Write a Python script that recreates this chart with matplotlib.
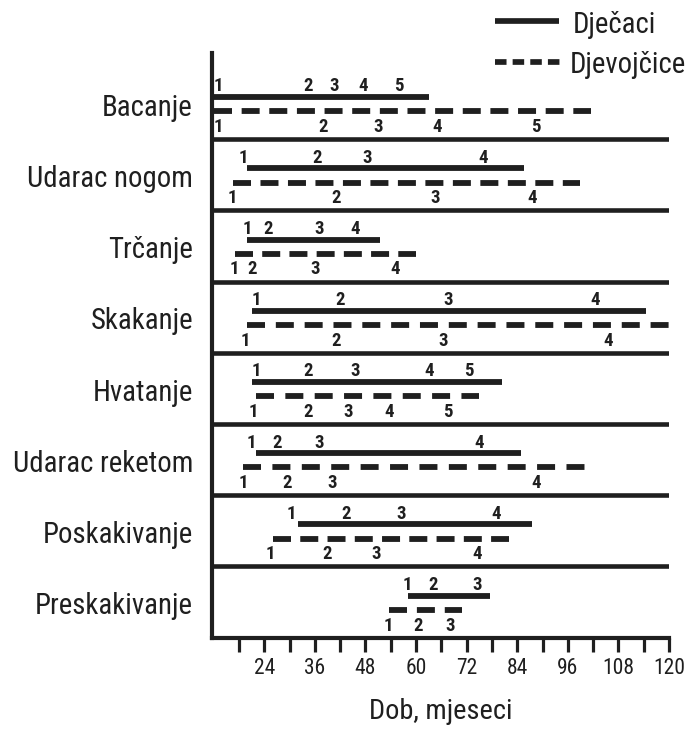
import matplotlib
matplotlib.use("Agg")
import matplotlib.pyplot as plt
from matplotlib import font_manager
from matplotlib.lines import Line2D
import matplotlib.transforms as mtransforms

# ---------------- data ----------------
categories = ["Bacanje", "Udarac nogom", "Trčanje", "Skakanje",
              "Hvatanje", "Udarac reketom", "Poskakivanje", "Preskakivanje"]

boys_start = [12, 20, 20, 21, 21, 22, 32, 58]
boys_end = [63, 85.5, 51.5, 114.5, 80.5, 85, 87.5, 77.5]
girls_start = [12, 16.5, 17, 20, 22, 19, 26, 53.5]
girls_end = [101.5, 99, 60, 120, 75, 100, 82, 71]

boys_stages = [
    [13, 34.5, 40.5, 47.5, 56],
    [19, 36.5, 48.5, 76],
    [20, 25, 37, 45.5],
    [22, 42, 67.5, 102.5],
    [22, 34.5, 45.5, 63, 72.5],
    [21, 27, 37, 75],
    [30.5, 43.5, 56.5, 79],
    [58, 64, 74.5],
]
girls_stages = [
    [13, 38, 51, 65, 88.5],
    [16.5, 41, 64.5, 87.5],
    [17, 21, 36, 55],
    [19.5, 41, 66.5, 105.5],
    [21.5, 34.5, 44, 53.5, 67.5],
    [19, 29.5, 40, 88.5],
    [25.5, 39, 50.5, 74.5],
    [53.5, 60.5, 68],
]

major_ticks = [24, 36, 48, 60, 72, 84, 96, 108, 120]
minor_ticks = [18, 30, 42, 54, 66, 78, 90, 102, 114]
xlabel = "Dob, mjeseci"
legend_boys = "Dječaci"
legend_girls = "Djevojčice"

# ---------------- fonts ----------------
names = {f.name for f in font_manager.fontManager.ttflist}
if "Roboto Condensed" in names:
    FAM = "Roboto Condensed"
    SZ = dict(label=20.7, legend=20.7, xlabel=20.4, tick=15.5, num=13.5)
elif "Liberation Sans Narrow" in names:
    FAM = "Liberation Sans Narrow"
    SZ = dict(label=22, legend=22, xlabel=22, tick=16, num=14)
else:
    FAM = "Liberation Sans"
    SZ = dict(label=18, legend=18, xlabel=18, tick=13, num=13)
plt.rcParams["font.family"] = [FAM, "DejaVu Sans"]
plt.rcParams["lines.scale_dashes"] = False

INK = "#1f1f1f"
W, H = 691, 729
X0, X1 = 11.6, 120
AX_L, AX_R, AX_T, AX_B = 212, 669, 53, 637.7
PPM = (AX_R - AX_L) / (X1 - X0)   # pixels per month


def fitted_dashes(a, b, dash_px=18.0, gap_px=10.5):
    L = (b - a) * PPM
    n = max(1, round((L + gap_px) / (dash_px + gap_px)))
    gap = (L - n * dash_px) / (n - 1) if n > 1 else gap_px
    return (dash_px * 0.72, max(gap, 1.0) * 0.72)


fig = plt.figure(figsize=(W / 100, H / 100), dpi=100)
ax = fig.add_axes([AX_L / W, 1 - AX_B / H, (AX_R - AX_L) / W, (AX_B - AX_T) / H])
ax.set_xlim(X0, X1)
ax.set_ylim(0, 8.21)

n = len(categories)
lab_tr = mtransforms.blended_transform_factory(fig.transFigure, ax.transData)
for i, cat in enumerate(categories):
    base = n - 1 - i
    ax.plot([boys_start[i], boys_end[i]], [base + 0.59] * 2, color=INK, lw=4.2,
            solid_capstyle="butt")
    ax.plot([girls_start[i], girls_end[i]], [base + 0.39] * 2, color=INK, lw=4.2,
            dashes=fitted_dashes(girls_start[i], girls_end[i]), dash_capstyle="butt")
    for k, v in enumerate(boys_stages[i]):
        ax.text(v, base + 0.67, str(k + 1), ha="center", va="baseline",
                fontsize=SZ["num"], fontweight="bold", color=INK)
    for k, v in enumerate(girls_stages[i]):
        ax.text(v, base + 0.10, str(k + 1), ha="center", va="baseline",
                fontsize=SZ["num"], fontweight="bold", color=INK)
    ax.text(193 / W, base + 0.33, cat, transform=lab_tr, ha="right",
            va="baseline", fontsize=SZ["label"], color=INK)
    if base > 0:
        ax.axhline(base, color=INK, lw=3.3)

for sp in ["top", "right"]:
    ax.spines[sp].set_visible(False)
for sp in ["left", "bottom"]:
    ax.spines[sp].set_linewidth(3.0)
    ax.spines[sp].set_color(INK)

ax.set_yticks([])
ax.set_xticks(major_ticks)
ax.set_xticks(minor_ticks, minor=True)
ax.set_xticklabels([str(t) for t in major_ticks])
ax.tick_params(axis="x", which="both", length=10, width=2.3, direction="out",
               color=INK, pad=4.5, labelsize=SZ["tick"], labelcolor=INK)

fig.text(440.5 / W, 1 - 719.3 / H, xlabel, ha="center", va="baseline",
         fontsize=SZ["xlabel"], color=INK)

# legend
fig.add_artist(Line2D([495 / W, 559 / W], [1 - 20.7 / H] * 2, transform=fig.transFigure,
                      lw=4.1, color=INK, solid_capstyle="butt"))
fig.add_artist(Line2D([495 / W, 560 / W], [1 - 61.5 / H] * 2, transform=fig.transFigure,
                      lw=4.1, color=INK, dashes=(8.3, 4.4), dash_capstyle="butt"))
fig.text(573 / W, 1 - 32.7 / H, legend_boys, ha="left", va="baseline",
         fontsize=SZ["legend"], color=INK)
fig.text(569.3 / W, 1 - 72.7 / H, legend_girls, ha="left", va="baseline",
         fontsize=SZ["legend"], color=INK)

fig.savefig("out.png", dpi=100)
